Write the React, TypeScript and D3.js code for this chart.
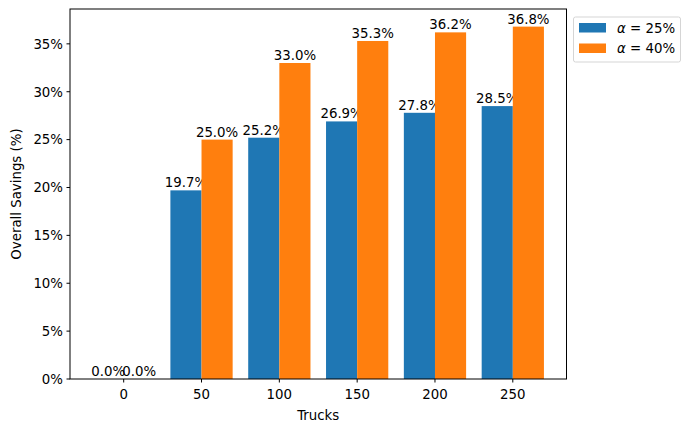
import React from "react";
import * as d3 from "d3";

const trucks = [0, 50, 100, 150, 200, 250];
const alpha25 = [0.0, 19.7, 25.2, 26.9, 27.8, 28.5];
const alpha40 = [0.0, 25.0, 33.0, 35.3, 36.2, 36.8];
const seriesNames = ["25%", "40%"];
const yTicks = [0, 5, 10, 15, 20, 25, 30, 35];
const colors = ["#1f77b4", "#ff7f0e"];

const W = 691, H = 432;
const L = 70, R = 566.5, T = 9, B = 379;
const barW = 20;

export default function App() {
  const x = d3.scaleLinear().domain([-20 - 14.5, 270 + 14.5]).range([L, R]);
  const yMax = d3.max([...alpha25, ...alpha40])! * 1.05;
  const y = d3.scaleLinear().domain([0, yMax]).range([B, T]);
  const font = "DejaVu Sans, sans-serif";
  const series = [alpha25, alpha40];
  return (
    <svg width={W} height={H} style={{ position: "absolute", left: 0, top: 0 }} fontFamily={font}>
      <rect width={W} height={H} fill="white" />
      {series.map((vals, s) =>
        vals.map((v, i) => {
          const x0 = s === 0 ? trucks[i] - barW : trucks[i];
          const px = x(x0);
          const pw = x(x0 + barW) - x(x0);
          return (
            <g key={`${s}-${i}`}>
              <rect x={px} y={y(v)} width={pw} height={B - y(v)} fill={colors[s]} />
              <text x={px + pw / 2} y={y(v) - 3} textAnchor="middle" fontSize={13.33} fill="black">
                {v.toFixed(1) + "%"}
              </text>
            </g>
          );
        })
      )}
      <rect x={L} y={T} width={R - L} height={B - T} fill="none" stroke="black" strokeWidth={1} />
      {trucks.map((t) => (
        <g key={t}>
          <line x1={x(t)} x2={x(t)} y1={B} y2={B + 3.5} stroke="black" />
          <text x={x(t)} y={B + 20} textAnchor="middle" fontSize={13.33}>{t}</text>
        </g>
      ))}
      {yTicks.map((t) => (
        <g key={t}>
          <line x1={L - 3.5} x2={L} y1={y(t)} y2={y(t)} stroke="black" />
          <text x={L - 7} y={y(t) + 4.8} textAnchor="end" fontSize={13.33}>{t + "%"}</text>
        </g>
      ))}
      <text x={(L + R) / 2} y={420} textAnchor="middle" fontSize={13.33}>Trucks</text>
      <text transform={`translate(21, ${(T + B) / 2}) rotate(-90)`} textAnchor="middle" fontSize={13.33}>
        Overall Savings (%)
      </text>
      <g>
        <rect x={573.5} y={17} width={107} height={45} rx={2} fill="white" stroke="#d5d5d5" />
        {seriesNames.map((n, i) => (
          <g key={n}>
            <rect x={579} y={23 + i * 20.5} width={27} height={9.5} fill={colors[i]} />
            <text x={617} y={32.5 + i * 20.5} fontSize={13.33}>
              <tspan fontStyle="italic">α</tspan>
              <tspan> = {n}</tspan>
            </text>
          </g>
        ))}
      </g>
    </svg>
  );
}
